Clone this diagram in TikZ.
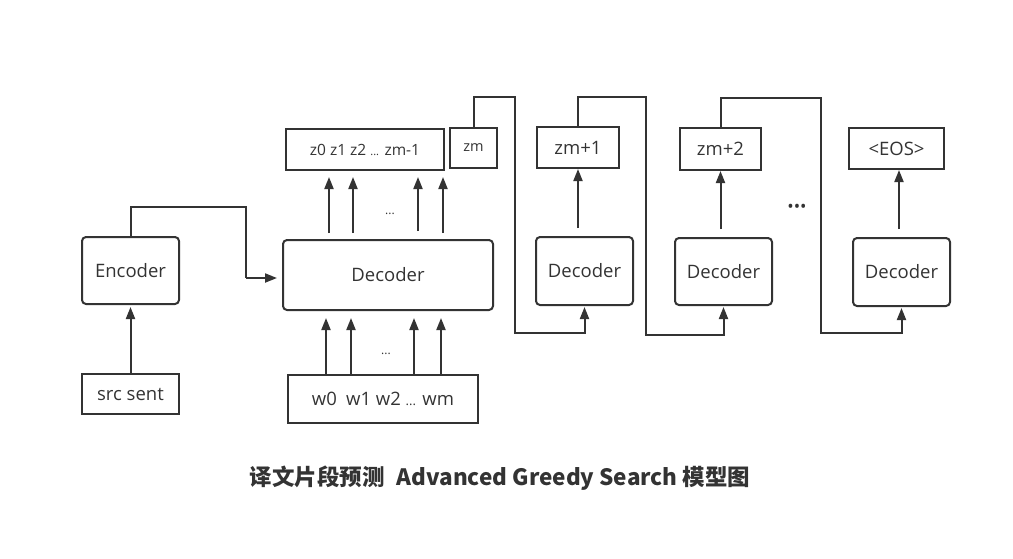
\documentclass[tikz,border=0pt]{standalone}
\usepackage{fontspec}
\setmainfont{Open Sans}
\newfontfamily\cjk{Noto Sans CJK SC}
\usetikzlibrary{arrows.meta,calc}
\definecolor{ink}{HTML}{333333}
\begin{document}
\begin{tikzpicture}[x=1pt,y=-1pt,
  every node/.style={text=ink},
  box/.style={draw=ink,line width=2pt,inner sep=0pt},
  rbox/.style={box,rounded corners=4pt},
  link/.style={draw=ink,line width=2pt},
  arr/.style={link,-{Triangle[length=12pt,width=9pt]}},
  lbl/.style={font=\fontsize{18.5}{22}\selectfont},
  sdots/.style={font=\fontsize{12}{14}\selectfont}
]
\useasboundingbox (0,0) rectangle (1013,558);
% nodes
\node[rbox,lbl,minimum width=97pt,minimum height=67pt] (enc) at (130.5,270.5) {Encoder};
\node[box,lbl,minimum width=97pt,minimum height=40pt] (src) at (130.5,394) {src sent};
\node[rbox,lbl,minimum width=210pt,minimum height=70pt] (dec) at (388,275) {Decoder};
\node[box,lbl,minimum width=190pt,minimum height=48pt] (wb) at (383,399) {w0\enspace w1 w2 {\fontsize{13}{14}\selectfont...} wm};
\node[box,font=\fontsize{15.5}{18}\selectfont,minimum width=158pt,minimum height=41pt] (zs) at (365,149.5) {z0 z1 z2 {\fontsize{11}{12}\selectfont...} zm-1};
\node[box,font=\fontsize{14.5}{16}\selectfont,minimum width=47pt,minimum height=40pt] (zm) at (473.5,148) {zm};
\node[rbox,lbl,minimum width=97pt,minimum height=68pt] (d2) at (584.5,271) {Decoder};
\node[box,lbl,minimum width=82pt,minimum height=41pt] (z1) at (578,147.5) {zm+1};
\node[rbox,lbl,minimum width=97pt,minimum height=67pt] (d3) at (723.5,271.5) {Decoder};
\node[box,lbl,minimum width=81pt,minimum height=42pt] (z2) at (720.5,149) {zm+2};
\node[rbox,lbl,minimum width=97pt,minimum height=68pt] (d4) at (901.5,272) {Decoder};
\node[box,lbl,minimum width=95pt,minimum height=41pt] (eos) at (896.5,148.5) {<EOS>};
% dots
\node[sdots] (dt1) at (390,214) {...};
\node[sdots] (dt2) at (386,354) {...};
\node[font=\fontsize{17}{18}\selectfont] (dt3) at (797,208) {•••};
% title
\node[font=\cjk\bfseries\fontsize{22.5}{26}\selectfont] (title) at (500,478) {译文片段预测\hspace{12pt}Advanced Greedy Search 模型图};
% bend points
\coordinate (e1) at (246,207);
\coordinate (e2) at (246,278);
\coordinate (a1) at (515,97);
\coordinate (a2) at (515,333);
\coordinate (b1) at (646,97);
\coordinate (b2) at (646,335);
\coordinate (c1) at (821,98);
\coordinate (c2) at (821,333);
% connectors
\draw[arr,shorten >=2pt] (src.north) -- (enc.south);
\draw[link] (enc.north) |- (e1) -- (e2);
\draw[arr,shorten >=5pt] (e2) -- (dec.west |- e2);
\foreach \x in {329,353,443}
  \draw[arr,shorten <=6pt,shorten >=6pt] (dec.north -| \x,0) -- (zs.south -| \x,0);
\draw[arr,shorten <=8pt,shorten >=6pt] (dec.north -| 418,0) -- (zs.south -| 418,0);
\foreach \x in {326,351,414,441}
  \draw[arr,shorten >=7pt] (wb.north -| \x,0) -- (dec.south -| \x,0);
\draw[arr,shorten >=1pt] (zm.north) |- (a1) -- (a2) -| (d2.south);
\draw[arr,shorten >=1pt] (z1.north) |- (b1) -- (b2) -| (d3.south);
\draw[arr,shorten >=1pt] (z2.north) |- (c1) -- (c2) -| (d4.south);
\draw[arr,shorten <=8pt] (d2.north -| z1.south) -- (z1.south);
\draw[arr,shorten <=8pt] (d3.north -| z2.south) -- (z2.south);
\draw[arr,shorten <=8pt] (d4.north -| 899,0) -- (eos.south -| 899,0);
\end{tikzpicture}
\end{document}
